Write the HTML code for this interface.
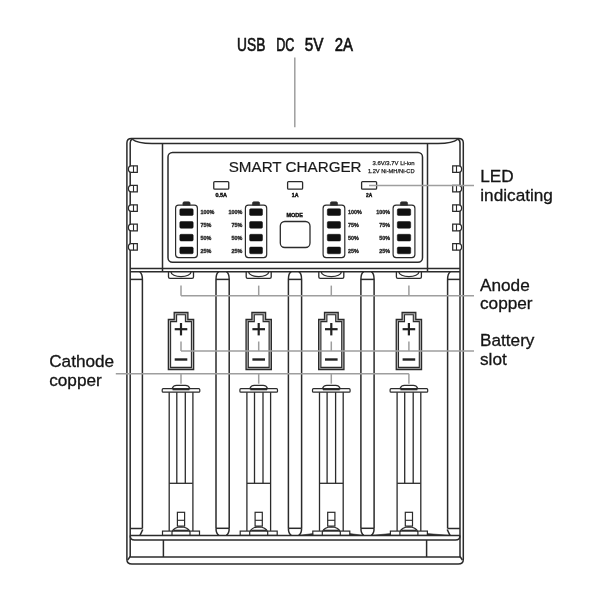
<!DOCTYPE html>
<html><head><meta charset="utf-8"><style>
html,body{margin:0;padding:0;background:#fff;width:600px;height:600px;overflow:hidden}
svg{display:block;filter:grayscale(1) blur(0.3px);font-family:"Liberation Sans",sans-serif}
</style></head><body>
<svg width="600" height="600" viewBox="0 0 600 600">
<text x="237.1" y="50.7" font-size="17.5" font-weight="normal" text-anchor="start" fill="#111" textLength="28.3" lengthAdjust="spacingAndGlyphs" stroke="#111" stroke-width="0.6">USB</text>
<text x="276.2" y="50.7" font-size="17.5" font-weight="normal" text-anchor="start" fill="#111" textLength="18.2" lengthAdjust="spacingAndGlyphs" stroke="#111" stroke-width="0.6">DC</text>
<text x="304.8" y="50.7" font-size="17.5" font-weight="normal" text-anchor="start" fill="#111" textLength="18.8" lengthAdjust="spacingAndGlyphs" stroke="#111" stroke-width="0.6">5V</text>
<text x="334.7" y="50.7" font-size="17.5" font-weight="normal" text-anchor="start" fill="#111" textLength="18.3" lengthAdjust="spacingAndGlyphs" stroke="#111" stroke-width="0.6">2A</text>
<line x1="294.8" y1="57.5" x2="294.8" y2="127.2" stroke="#9e9e9e" stroke-width="1.5"/>
<path d="M126.9,143.0 Q126.9,138.5 131.4,138.5 H458.8 Q463.3,138.5 463.3,143.0 V559.5 Q463.3,564 458.3,564 H131.9 Q126.9,564 126.9,559.5 Z" stroke="#2b2b2b" stroke-width="1.5" fill="none" />
<path d="M130.2,557 V143 Q130.2,140 132.3,139.0" stroke="#2b2b2b" stroke-width="1.5" fill="none" />
<path d="M460,557 V143 Q460,140 457.7,139.0" stroke="#2b2b2b" stroke-width="1.5" fill="none" />
<path d="M132.3,139.2 C136,142.3 141,143.5 152,143.5 H438 C449,143.5 454,142.3 457.7,139.2" stroke="#2b2b2b" stroke-width="1.5" fill="none" />
<path d="M130.2,556.5 L127.6,560" stroke="#2b2b2b" stroke-width="1.5" fill="none" />
<path d="M460,556.5 L462.4,560" stroke="#2b2b2b" stroke-width="1.5" fill="none" />
<line x1="130.2" y1="557" x2="460" y2="557" stroke="#2b2b2b" stroke-width="1.5"/>
<path d="M130.2,535.4 Q130.2,540 134.5,540 H455.5 Q460,540 460,535.4" stroke="#2b2b2b" stroke-width="1.5" fill="none" />
<line x1="130.2" y1="535.4" x2="460" y2="535.4" stroke="#2b2b2b" stroke-width="1.5"/>
<line x1="163.4" y1="540" x2="163.4" y2="557" stroke="#2b2b2b" stroke-width="1.5"/>
<line x1="426.6" y1="540" x2="426.6" y2="557" stroke="#2b2b2b" stroke-width="1.5"/>
<line x1="162.5" y1="143.5" x2="162.5" y2="271.7" stroke="#2b2b2b" stroke-width="1.5"/>
<line x1="427.5" y1="143.5" x2="427.5" y2="271.7" stroke="#2b2b2b" stroke-width="1.5"/>
<path d="M131.3,165.79999999999998 H137.3 V172.4 H131.3 C128.9,172.4 128.4,170.6 128.4,169.1 C128.4,167.6 128.9,165.79999999999998 131.3,165.79999999999998 Z" stroke="#2b2b2b" stroke-width="1.25" fill="#fff" />
<line x1="133.5" y1="165.79999999999998" x2="133.5" y2="172.4" stroke="#2b2b2b" stroke-width="1.1"/>
<path d="M458.7,165.79999999999998 H452.7 V172.4 H458.7 C461.1,172.4 461.6,170.6 461.6,169.1 C461.6,167.6 461.1,165.79999999999998 458.7,165.79999999999998 Z" stroke="#2b2b2b" stroke-width="1.25" fill="#fff" />
<line x1="456.5" y1="165.79999999999998" x2="456.5" y2="172.4" stroke="#2b2b2b" stroke-width="1.1"/>
<path d="M131.3,185.29999999999998 H137.3 V191.9 H131.3 C128.9,191.9 128.4,190.1 128.4,188.6 C128.4,187.1 128.9,185.29999999999998 131.3,185.29999999999998 Z" stroke="#2b2b2b" stroke-width="1.25" fill="#fff" />
<line x1="133.5" y1="185.29999999999998" x2="133.5" y2="191.9" stroke="#2b2b2b" stroke-width="1.1"/>
<path d="M458.7,185.29999999999998 H452.7 V191.9 H458.7 C461.1,191.9 461.6,190.1 461.6,188.6 C461.6,187.1 461.1,185.29999999999998 458.7,185.29999999999998 Z" stroke="#2b2b2b" stroke-width="1.25" fill="#fff" />
<line x1="456.5" y1="185.29999999999998" x2="456.5" y2="191.9" stroke="#2b2b2b" stroke-width="1.1"/>
<path d="M131.3,204.75 H137.3 V211.35000000000002 H131.3 C128.9,211.35000000000002 128.4,209.55 128.4,208.05 C128.4,206.55 128.9,204.75 131.3,204.75 Z" stroke="#2b2b2b" stroke-width="1.25" fill="#fff" />
<line x1="133.5" y1="204.75" x2="133.5" y2="211.35000000000002" stroke="#2b2b2b" stroke-width="1.1"/>
<path d="M458.7,204.75 H452.7 V211.35000000000002 H458.7 C461.1,211.35000000000002 461.6,209.55 461.6,208.05 C461.6,206.55 461.1,204.75 458.7,204.75 Z" stroke="#2b2b2b" stroke-width="1.25" fill="#fff" />
<line x1="456.5" y1="204.75" x2="456.5" y2="211.35000000000002" stroke="#2b2b2b" stroke-width="1.1"/>
<path d="M131.3,224.2 H137.3 V230.8 H131.3 C128.9,230.8 128.4,229.0 128.4,227.5 C128.4,226.0 128.9,224.2 131.3,224.2 Z" stroke="#2b2b2b" stroke-width="1.25" fill="#fff" />
<line x1="133.5" y1="224.2" x2="133.5" y2="230.8" stroke="#2b2b2b" stroke-width="1.1"/>
<path d="M458.7,224.2 H452.7 V230.8 H458.7 C461.1,230.8 461.6,229.0 461.6,227.5 C461.6,226.0 461.1,224.2 458.7,224.2 Z" stroke="#2b2b2b" stroke-width="1.25" fill="#fff" />
<line x1="456.5" y1="224.2" x2="456.5" y2="230.8" stroke="#2b2b2b" stroke-width="1.1"/>
<path d="M131.3,243.6 H137.3 V250.20000000000002 H131.3 C128.9,250.20000000000002 128.4,248.4 128.4,246.9 C128.4,245.4 128.9,243.6 131.3,243.6 Z" stroke="#2b2b2b" stroke-width="1.25" fill="#fff" />
<line x1="133.5" y1="243.6" x2="133.5" y2="250.20000000000002" stroke="#2b2b2b" stroke-width="1.1"/>
<path d="M458.7,243.6 H452.7 V250.20000000000002 H458.7 C461.1,250.20000000000002 461.6,248.4 461.6,246.9 C461.6,245.4 461.1,243.6 458.7,243.6 Z" stroke="#2b2b2b" stroke-width="1.25" fill="#fff" />
<line x1="456.5" y1="243.6" x2="456.5" y2="250.20000000000002" stroke="#2b2b2b" stroke-width="1.1"/>
<line x1="130.2" y1="268.5" x2="460" y2="268.5" stroke="#2b2b2b" stroke-width="1.5"/>
<line x1="130.2" y1="271.7" x2="460" y2="271.7" stroke="#2b2b2b" stroke-width="1.5"/>
<rect x="168" y="152.5" width="254.5" height="109.8" rx="4.5" stroke="#2b2b2b" stroke-width="1.5" fill="none"/>
<text x="228.7" y="171.6" font-size="15.2" font-weight="normal" text-anchor="start" fill="#1a1a1a" textLength="132.9" lengthAdjust="spacingAndGlyphs" stroke="#1a1a1a" stroke-width="0.2">SMART CHARGER</text>
<text x="414.6" y="165" font-size="5.9" font-weight="normal" text-anchor="end" fill="#222" textLength="42" lengthAdjust="spacingAndGlyphs" stroke="#222" stroke-width="0.25">3.6V/3.7V Li-ion</text>
<text x="414.6" y="173" font-size="5.9" font-weight="normal" text-anchor="end" fill="#222" textLength="46.7" lengthAdjust="spacingAndGlyphs" stroke="#222" stroke-width="0.25">1.2V Ni-MH/Ni-CD</text>
<rect x="213.75" y="181.6" width="15" height="7.6" rx="1" stroke="#2b2b2b" stroke-width="1.3" fill="none"/>
<text x="221.25" y="196.6" font-size="5.3" font-weight="bold" text-anchor="middle" fill="#111" textLength="11.6" lengthAdjust="spacingAndGlyphs" stroke="#111" stroke-width="0.4">0.5A</text>
<rect x="287.6" y="181.6" width="15" height="7.6" rx="1" stroke="#2b2b2b" stroke-width="1.3" fill="none"/>
<text x="295.1" y="196.6" font-size="5.3" font-weight="bold" text-anchor="middle" fill="#111" textLength="6.7" lengthAdjust="spacingAndGlyphs" stroke="#111" stroke-width="0.4">1A</text>
<rect x="361.6" y="181.6" width="15" height="7.6" rx="1" stroke="#2b2b2b" stroke-width="1.3" fill="none"/>
<text x="369.1" y="196.6" font-size="5.3" font-weight="bold" text-anchor="middle" fill="#111" textLength="6.2" lengthAdjust="spacingAndGlyphs" stroke="#111" stroke-width="0.4">2A</text>
<rect x="175.6" y="205.2" width="21.80000000000001" height="52.4" rx="3" stroke="#2b2b2b" stroke-width="1.2" fill="none"/>
<path d="M182.9,205.2 V203.2 Q182.9,201.8 184.3,201.8 H188.7 Q190.1,201.8 190.1,203.2 V205.2 Z" stroke="#2b2b2b" stroke-width="0.6" fill="#2b2b2b" />
<rect x="179.79999999999998" y="208.8" width="13.400000000000011" height="6.7" rx="1.2" stroke="#111" stroke-width="0.5" fill="#111"/>
<text x="200.6" y="214.4" font-size="5.4" font-weight="bold" text-anchor="start" fill="#222" stroke="#222" stroke-width="0.3">100%</text>
<rect x="179.79999999999998" y="221.55" width="13.400000000000011" height="6.7" rx="1.2" stroke="#111" stroke-width="0.5" fill="#111"/>
<text x="200.6" y="227.15" font-size="5.4" font-weight="bold" text-anchor="start" fill="#222" stroke="#222" stroke-width="0.3">75%</text>
<rect x="179.79999999999998" y="234.3" width="13.400000000000011" height="6.7" rx="1.2" stroke="#111" stroke-width="0.5" fill="#111"/>
<text x="200.6" y="239.9" font-size="5.4" font-weight="bold" text-anchor="start" fill="#222" stroke="#222" stroke-width="0.3">50%</text>
<rect x="179.79999999999998" y="247.05" width="13.400000000000011" height="6.7" rx="1.2" stroke="#111" stroke-width="0.5" fill="#111"/>
<text x="200.6" y="252.65" font-size="5.4" font-weight="bold" text-anchor="start" fill="#222" stroke="#222" stroke-width="0.3">25%</text>
<rect x="245.4" y="205.2" width="21.299999999999983" height="52.4" rx="3" stroke="#2b2b2b" stroke-width="1.2" fill="none"/>
<path d="M252.45000000000002,205.2 V203.2 Q252.45000000000002,201.8 253.85000000000002,201.8 H258.25 Q259.65000000000003,201.8 259.65000000000003,203.2 V205.2 Z" stroke="#2b2b2b" stroke-width="0.6" fill="#2b2b2b" />
<rect x="249.6" y="208.8" width="12.899999999999983" height="6.7" rx="1.2" stroke="#111" stroke-width="0.5" fill="#111"/>
<text x="242.4" y="214.4" font-size="5.4" font-weight="bold" text-anchor="end" fill="#222" stroke="#222" stroke-width="0.3">100%</text>
<rect x="249.6" y="221.55" width="12.899999999999983" height="6.7" rx="1.2" stroke="#111" stroke-width="0.5" fill="#111"/>
<text x="242.4" y="227.15" font-size="5.4" font-weight="bold" text-anchor="end" fill="#222" stroke="#222" stroke-width="0.3">75%</text>
<rect x="249.6" y="234.3" width="12.899999999999983" height="6.7" rx="1.2" stroke="#111" stroke-width="0.5" fill="#111"/>
<text x="242.4" y="239.9" font-size="5.4" font-weight="bold" text-anchor="end" fill="#222" stroke="#222" stroke-width="0.3">50%</text>
<rect x="249.6" y="247.05" width="12.899999999999983" height="6.7" rx="1.2" stroke="#111" stroke-width="0.5" fill="#111"/>
<text x="242.4" y="252.65" font-size="5.4" font-weight="bold" text-anchor="end" fill="#222" stroke="#222" stroke-width="0.3">25%</text>
<rect x="323.1" y="205.2" width="21.69999999999999" height="52.4" rx="3" stroke="#2b2b2b" stroke-width="1.2" fill="none"/>
<path d="M330.35,205.2 V203.2 Q330.35,201.8 331.75000000000006,201.8 H336.15000000000003 Q337.55000000000007,201.8 337.55000000000007,203.2 V205.2 Z" stroke="#2b2b2b" stroke-width="0.6" fill="#2b2b2b" />
<rect x="327.3" y="208.8" width="13.299999999999988" height="6.7" rx="1.2" stroke="#111" stroke-width="0.5" fill="#111"/>
<text x="348.0" y="214.4" font-size="5.4" font-weight="bold" text-anchor="start" fill="#222" stroke="#222" stroke-width="0.3">100%</text>
<rect x="327.3" y="221.55" width="13.299999999999988" height="6.7" rx="1.2" stroke="#111" stroke-width="0.5" fill="#111"/>
<text x="348.0" y="227.15" font-size="5.4" font-weight="bold" text-anchor="start" fill="#222" stroke="#222" stroke-width="0.3">75%</text>
<rect x="327.3" y="234.3" width="13.299999999999988" height="6.7" rx="1.2" stroke="#111" stroke-width="0.5" fill="#111"/>
<text x="348.0" y="239.9" font-size="5.4" font-weight="bold" text-anchor="start" fill="#222" stroke="#222" stroke-width="0.3">50%</text>
<rect x="327.3" y="247.05" width="13.299999999999988" height="6.7" rx="1.2" stroke="#111" stroke-width="0.5" fill="#111"/>
<text x="348.0" y="252.65" font-size="5.4" font-weight="bold" text-anchor="start" fill="#222" stroke="#222" stroke-width="0.3">25%</text>
<rect x="393.1" y="205.2" width="21.799999999999955" height="52.4" rx="3" stroke="#2b2b2b" stroke-width="1.2" fill="none"/>
<path d="M400.4,205.2 V203.2 Q400.4,201.8 401.8,201.8 H406.2 Q407.6,201.8 407.6,203.2 V205.2 Z" stroke="#2b2b2b" stroke-width="0.6" fill="#2b2b2b" />
<rect x="397.3" y="208.8" width="13.399999999999954" height="6.7" rx="1.2" stroke="#111" stroke-width="0.5" fill="#111"/>
<text x="390.1" y="214.4" font-size="5.4" font-weight="bold" text-anchor="end" fill="#222" stroke="#222" stroke-width="0.3">100%</text>
<rect x="397.3" y="221.55" width="13.399999999999954" height="6.7" rx="1.2" stroke="#111" stroke-width="0.5" fill="#111"/>
<text x="390.1" y="227.15" font-size="5.4" font-weight="bold" text-anchor="end" fill="#222" stroke="#222" stroke-width="0.3">75%</text>
<rect x="397.3" y="234.3" width="13.399999999999954" height="6.7" rx="1.2" stroke="#111" stroke-width="0.5" fill="#111"/>
<text x="390.1" y="239.9" font-size="5.4" font-weight="bold" text-anchor="end" fill="#222" stroke="#222" stroke-width="0.3">50%</text>
<rect x="397.3" y="247.05" width="13.399999999999954" height="6.7" rx="1.2" stroke="#111" stroke-width="0.5" fill="#111"/>
<text x="390.1" y="252.65" font-size="5.4" font-weight="bold" text-anchor="end" fill="#222" stroke="#222" stroke-width="0.3">25%</text>
<text x="294.75" y="217.2" font-size="5.4" font-weight="bold" text-anchor="middle" fill="#111" textLength="16.3" lengthAdjust="spacingAndGlyphs" stroke="#111" stroke-width="0.4">MODE</text>
<rect x="280.3" y="221.5" width="29.7" height="26" rx="4.5" stroke="#2b2b2b" stroke-width="1.3" fill="none"/>
<path d="M139.8,271.7 Q142.4,274 142.4,279.4 V528.5" stroke="#2b2b2b" stroke-width="1.5" fill="none" />
<line x1="130.2" y1="279.4" x2="142.4" y2="279.4" stroke="#2b2b2b" stroke-width="1.5"/>
<line x1="130.2" y1="528.5" x2="142.4" y2="528.5" stroke="#2b2b2b" stroke-width="1.5"/>
<path d="M142.8,529.5 L140,535.4" stroke="#2b2b2b" stroke-width="1.5" fill="none" />
<path d="M450.2,271.7 Q447.6,274 447.6,279.4 V528.5" stroke="#2b2b2b" stroke-width="1.5" fill="none" />
<line x1="460" y1="279.4" x2="447.6" y2="279.4" stroke="#2b2b2b" stroke-width="1.5"/>
<line x1="460" y1="528.5" x2="447.6" y2="528.5" stroke="#2b2b2b" stroke-width="1.5"/>
<path d="M447.2,529.5 L450,535.4" stroke="#2b2b2b" stroke-width="1.5" fill="none" />
<path d="M216.0,528.3 V279.4 C216.0,275.5 217.4,272.6 218.79999999999998,271.7 M226.4,271.7 C227.79999999999998,272.6 229.2,275.5 229.2,279.4 V528.3" stroke="#2b2b2b" stroke-width="1.5" fill="none" />
<line x1="216.0" y1="279.4" x2="229.2" y2="279.4" stroke="#2b2b2b" stroke-width="1.5"/>
<line x1="216.0" y1="528.3" x2="229.2" y2="528.3" stroke="#2b2b2b" stroke-width="1.5"/>
<path d="M216.0,528.3 C216.0,531.8 217.4,534.5 218.9,535.4 M226.29999999999998,535.4 C227.79999999999998,534.5 229.2,531.8 229.2,528.3" stroke="#2b2b2b" stroke-width="1.5" fill="none" />
<path d="M288.4,528.3 V279.4 C288.4,275.5 289.8,272.6 291.2,271.7 M298.8,271.7 C300.2,272.6 301.6,275.5 301.6,279.4 V528.3" stroke="#2b2b2b" stroke-width="1.5" fill="none" />
<line x1="288.4" y1="279.4" x2="301.6" y2="279.4" stroke="#2b2b2b" stroke-width="1.5"/>
<line x1="288.4" y1="528.3" x2="301.6" y2="528.3" stroke="#2b2b2b" stroke-width="1.5"/>
<path d="M288.4,528.3 C288.4,531.8 289.8,534.5 291.3,535.4 M298.7,535.4 C300.2,534.5 301.6,531.8 301.6,528.3" stroke="#2b2b2b" stroke-width="1.5" fill="none" />
<path d="M360.9,528.3 V279.4 C360.9,275.5 362.3,272.6 363.7,271.7 M371.3,271.7 C372.7,272.6 374.1,275.5 374.1,279.4 V528.3" stroke="#2b2b2b" stroke-width="1.5" fill="none" />
<line x1="360.9" y1="279.4" x2="374.1" y2="279.4" stroke="#2b2b2b" stroke-width="1.5"/>
<line x1="360.9" y1="528.3" x2="374.1" y2="528.3" stroke="#2b2b2b" stroke-width="1.5"/>
<path d="M360.9,528.3 C360.9,531.8 362.3,534.5 363.8,535.4 M371.2,535.4 C372.7,534.5 374.1,531.8 374.1,528.3" stroke="#2b2b2b" stroke-width="1.5" fill="none" />
<path d="M168.5,271.7 V277 Q168.5,278.4 170.0,278.4 H192.0 Q193.5,278.4 193.5,277 V271.7" stroke="#2b2b2b" stroke-width="1.3" fill="none" />
<path d="M171.0,272 A10 4.6 0 0 0 191.0,272" stroke="#2b2b2b" stroke-width="1.3" fill="none" />
<path d="M168.35,369.5 V319.5 H174.2 V312.5 H187.9 V319.5 H193.65 V369.5 Z" stroke="#2b2b2b" stroke-width="1.3" fill="#b4b4b4" />
<path d="M170.6,367.4 V321.6 H176.6 V314.8 H185.4 V321.6 H191.4 V367.4 Z" stroke="#2b2b2b" stroke-width="1.1" fill="#fff" />
<line x1="174.7" y1="329.2" x2="187.3" y2="329.2" stroke="#222" stroke-width="2.2"/>
<line x1="181.0" y1="323" x2="181.0" y2="335.4" stroke="#222" stroke-width="2.2"/>
<line x1="174.7" y1="359.5" x2="187.3" y2="359.5" stroke="#222" stroke-width="2.4"/>
<rect x="162.2" y="388.7" width="37.6" height="3.5" rx="1" stroke="#2b2b2b" stroke-width="1.2" fill="none"/>
<path d="M172.4,389.3 V388 Q173.5,385.3 176.5,385.3 H185.5 Q188.5,385.3 189.6,388 V389.3" stroke="#2b2b2b" stroke-width="1.2" fill="none" />
<line x1="172.6" y1="389.6" x2="189.4" y2="389.6" stroke="#2b2b2b" stroke-width="1.4"/>
<line x1="169.2" y1="392.2" x2="169.2" y2="530.9" stroke="#2b2b2b" stroke-width="1.3"/>
<line x1="192.9" y1="392.2" x2="192.9" y2="530.9" stroke="#2b2b2b" stroke-width="1.3"/>
<line x1="176.8" y1="392.2" x2="176.8" y2="483.3" stroke="#2b2b2b" stroke-width="1.3"/>
<line x1="185.3" y1="392.2" x2="185.3" y2="483.3" stroke="#2b2b2b" stroke-width="1.3"/>
<line x1="169.3" y1="483.3" x2="192.7" y2="483.3" stroke="#2b2b2b" stroke-width="1.3"/>
<rect x="177.4" y="512.3" width="7.2" height="13.8" rx="0" stroke="#2b2b2b" stroke-width="1.2" fill="none"/>
<line x1="177.4" y1="520.3" x2="184.6" y2="520.3" stroke="#2b2b2b" stroke-width="1.1"/>
<rect x="162.5" y="531.1" width="37" height="4.3" rx="0" stroke="#2b2b2b" stroke-width="1.2" fill="none"/>
<path d="M172.0,535.4 V532 Q174.0,527 181.0,526.9 Q188.0,527 190.0,532 V535.4" stroke="#2b2b2b" stroke-width="1.2" fill="none" />
<line x1="173.5" y1="530.4" x2="188.5" y2="530.4" stroke="#2b2b2b" stroke-width="1.4"/>
<path d="M246.2,271.7 V277 Q246.2,278.4 247.7,278.4 H269.7 Q271.2,278.4 271.2,277 V271.7" stroke="#2b2b2b" stroke-width="1.3" fill="none" />
<path d="M248.7,272 A10 4.6 0 0 0 268.7,272" stroke="#2b2b2b" stroke-width="1.3" fill="none" />
<path d="M246.04999999999998,369.5 V319.5 H251.89999999999998 V312.5 H265.59999999999997 V319.5 H271.34999999999997 V369.5 Z" stroke="#2b2b2b" stroke-width="1.3" fill="#b4b4b4" />
<path d="M248.29999999999998,367.4 V321.6 H254.29999999999998 V314.8 H263.09999999999997 V321.6 H269.09999999999997 V367.4 Z" stroke="#2b2b2b" stroke-width="1.1" fill="#fff" />
<line x1="252.39999999999998" y1="329.2" x2="265.0" y2="329.2" stroke="#222" stroke-width="2.2"/>
<line x1="258.7" y1="323" x2="258.7" y2="335.4" stroke="#222" stroke-width="2.2"/>
<line x1="252.39999999999998" y1="359.5" x2="265.0" y2="359.5" stroke="#222" stroke-width="2.4"/>
<rect x="239.89999999999998" y="388.7" width="37.6" height="3.5" rx="1" stroke="#2b2b2b" stroke-width="1.2" fill="none"/>
<path d="M250.1,389.3 V388 Q251.2,385.3 254.2,385.3 H263.2 Q266.2,385.3 267.3,388 V389.3" stroke="#2b2b2b" stroke-width="1.2" fill="none" />
<line x1="250.29999999999998" y1="389.6" x2="267.09999999999997" y2="389.6" stroke="#2b2b2b" stroke-width="1.4"/>
<line x1="246.89999999999998" y1="392.2" x2="246.89999999999998" y2="530.9" stroke="#2b2b2b" stroke-width="1.3"/>
<line x1="270.59999999999997" y1="392.2" x2="270.59999999999997" y2="530.9" stroke="#2b2b2b" stroke-width="1.3"/>
<line x1="254.5" y1="392.2" x2="254.5" y2="483.3" stroke="#2b2b2b" stroke-width="1.3"/>
<line x1="263.0" y1="392.2" x2="263.0" y2="483.3" stroke="#2b2b2b" stroke-width="1.3"/>
<line x1="247.0" y1="483.3" x2="270.4" y2="483.3" stroke="#2b2b2b" stroke-width="1.3"/>
<rect x="255.1" y="512.3" width="7.2" height="13.8" rx="0" stroke="#2b2b2b" stroke-width="1.2" fill="none"/>
<line x1="255.1" y1="520.3" x2="262.3" y2="520.3" stroke="#2b2b2b" stroke-width="1.1"/>
<rect x="240.2" y="531.1" width="37" height="4.3" rx="0" stroke="#2b2b2b" stroke-width="1.2" fill="none"/>
<path d="M249.7,535.4 V532 Q251.7,527 258.7,526.9 Q265.7,527 267.7,532 V535.4" stroke="#2b2b2b" stroke-width="1.2" fill="none" />
<line x1="251.2" y1="530.4" x2="266.2" y2="530.4" stroke="#2b2b2b" stroke-width="1.4"/>
<path d="M318.8,271.7 V277 Q318.8,278.4 320.3,278.4 H342.3 Q343.8,278.4 343.8,277 V271.7" stroke="#2b2b2b" stroke-width="1.3" fill="none" />
<path d="M321.3,272 A10 4.6 0 0 0 341.3,272" stroke="#2b2b2b" stroke-width="1.3" fill="none" />
<path d="M318.65000000000003,369.5 V319.5 H324.5 V312.5 H338.2 V319.5 H343.95 V369.5 Z" stroke="#2b2b2b" stroke-width="1.3" fill="#b4b4b4" />
<path d="M320.90000000000003,367.4 V321.6 H326.90000000000003 V314.8 H335.7 V321.6 H341.7 V367.4 Z" stroke="#2b2b2b" stroke-width="1.1" fill="#fff" />
<line x1="325.0" y1="329.2" x2="337.6" y2="329.2" stroke="#222" stroke-width="2.2"/>
<line x1="331.3" y1="323" x2="331.3" y2="335.4" stroke="#222" stroke-width="2.2"/>
<line x1="325.0" y1="359.5" x2="337.6" y2="359.5" stroke="#222" stroke-width="2.4"/>
<rect x="312.5" y="388.7" width="37.6" height="3.5" rx="1" stroke="#2b2b2b" stroke-width="1.2" fill="none"/>
<path d="M322.7,389.3 V388 Q323.8,385.3 326.8,385.3 H335.8 Q338.8,385.3 339.90000000000003,388 V389.3" stroke="#2b2b2b" stroke-width="1.2" fill="none" />
<line x1="322.90000000000003" y1="389.6" x2="339.7" y2="389.6" stroke="#2b2b2b" stroke-width="1.4"/>
<line x1="319.5" y1="392.2" x2="319.5" y2="530.9" stroke="#2b2b2b" stroke-width="1.3"/>
<line x1="343.2" y1="392.2" x2="343.2" y2="530.9" stroke="#2b2b2b" stroke-width="1.3"/>
<line x1="327.1" y1="392.2" x2="327.1" y2="483.3" stroke="#2b2b2b" stroke-width="1.3"/>
<line x1="335.6" y1="392.2" x2="335.6" y2="483.3" stroke="#2b2b2b" stroke-width="1.3"/>
<line x1="319.6" y1="483.3" x2="343.0" y2="483.3" stroke="#2b2b2b" stroke-width="1.3"/>
<rect x="327.7" y="512.3" width="7.2" height="13.8" rx="0" stroke="#2b2b2b" stroke-width="1.2" fill="none"/>
<line x1="327.7" y1="520.3" x2="334.90000000000003" y2="520.3" stroke="#2b2b2b" stroke-width="1.1"/>
<rect x="312.8" y="531.1" width="37" height="4.3" rx="0" stroke="#2b2b2b" stroke-width="1.2" fill="none"/>
<path d="M322.3,535.4 V532 Q324.3,527 331.3,526.9 Q338.3,527 340.3,532 V535.4" stroke="#2b2b2b" stroke-width="1.2" fill="none" />
<line x1="323.8" y1="530.4" x2="338.8" y2="530.4" stroke="#2b2b2b" stroke-width="1.4"/>
<path d="M396.4,271.7 V277 Q396.4,278.4 397.9,278.4 H419.9 Q421.4,278.4 421.4,277 V271.7" stroke="#2b2b2b" stroke-width="1.3" fill="none" />
<path d="M398.9,272 A10 4.6 0 0 0 418.9,272" stroke="#2b2b2b" stroke-width="1.3" fill="none" />
<path d="M396.25,369.5 V319.5 H402.09999999999997 V312.5 H415.79999999999995 V319.5 H421.54999999999995 V369.5 Z" stroke="#2b2b2b" stroke-width="1.3" fill="#b4b4b4" />
<path d="M398.5,367.4 V321.6 H404.5 V314.8 H413.29999999999995 V321.6 H419.29999999999995 V367.4 Z" stroke="#2b2b2b" stroke-width="1.1" fill="#fff" />
<line x1="402.59999999999997" y1="329.2" x2="415.2" y2="329.2" stroke="#222" stroke-width="2.2"/>
<line x1="408.9" y1="323" x2="408.9" y2="335.4" stroke="#222" stroke-width="2.2"/>
<line x1="402.59999999999997" y1="359.5" x2="415.2" y2="359.5" stroke="#222" stroke-width="2.4"/>
<rect x="390.09999999999997" y="388.7" width="37.6" height="3.5" rx="1" stroke="#2b2b2b" stroke-width="1.2" fill="none"/>
<path d="M400.29999999999995,389.3 V388 Q401.4,385.3 404.4,385.3 H413.4 Q416.4,385.3 417.5,388 V389.3" stroke="#2b2b2b" stroke-width="1.2" fill="none" />
<line x1="400.5" y1="389.6" x2="417.29999999999995" y2="389.6" stroke="#2b2b2b" stroke-width="1.4"/>
<line x1="397.09999999999997" y1="392.2" x2="397.09999999999997" y2="530.9" stroke="#2b2b2b" stroke-width="1.3"/>
<line x1="420.79999999999995" y1="392.2" x2="420.79999999999995" y2="530.9" stroke="#2b2b2b" stroke-width="1.3"/>
<line x1="404.7" y1="392.2" x2="404.7" y2="483.3" stroke="#2b2b2b" stroke-width="1.3"/>
<line x1="413.2" y1="392.2" x2="413.2" y2="483.3" stroke="#2b2b2b" stroke-width="1.3"/>
<line x1="397.2" y1="483.3" x2="420.59999999999997" y2="483.3" stroke="#2b2b2b" stroke-width="1.3"/>
<rect x="405.29999999999995" y="512.3" width="7.2" height="13.8" rx="0" stroke="#2b2b2b" stroke-width="1.2" fill="none"/>
<line x1="405.29999999999995" y1="520.3" x2="412.5" y2="520.3" stroke="#2b2b2b" stroke-width="1.1"/>
<rect x="390.4" y="531.1" width="37" height="4.3" rx="0" stroke="#2b2b2b" stroke-width="1.2" fill="none"/>
<path d="M399.9,535.4 V532 Q401.9,527 408.9,526.9 Q415.9,527 417.9,532 V535.4" stroke="#2b2b2b" stroke-width="1.2" fill="none" />
<line x1="401.4" y1="530.4" x2="416.4" y2="530.4" stroke="#2b2b2b" stroke-width="1.4"/>
<path d="M298.7,535.4 L312.8,533.6 L312.8,535.4 Z" stroke="#2b2b2b" stroke-width="0.6" fill="#2b2b2b" />
<path d="M363.8,535.4 L349.8,533.6 L349.8,535.4 Z" stroke="#2b2b2b" stroke-width="0.6" fill="#2b2b2b" />
<path d="M371.2,535.4 L390.4,533.6 L390.4,535.4 Z" stroke="#2b2b2b" stroke-width="0.6" fill="#2b2b2b" />
<path d="M450.5,535.4 L427.4,533.6 L427.4,535.4 Z" stroke="#2b2b2b" stroke-width="0.6" fill="#2b2b2b" />
<line x1="369.1" y1="185.4" x2="474" y2="185.4" stroke="#9e9e9e" stroke-width="1.5"/>
<line x1="181" y1="295.7" x2="474" y2="295.7" stroke="#9e9e9e" stroke-width="1.5"/>
<line x1="181" y1="351" x2="474" y2="351" stroke="#9e9e9e" stroke-width="1.5"/>
<line x1="115.8" y1="373.8" x2="408.9" y2="373.8" stroke="#9e9e9e" stroke-width="1.5"/>
<line x1="181.0" y1="285.6" x2="181.0" y2="295.7" stroke="#9e9e9e" stroke-width="1.5"/>
<line x1="181.0" y1="341.5" x2="181.0" y2="351" stroke="#9e9e9e" stroke-width="1.5"/>
<line x1="181.0" y1="373.8" x2="181.0" y2="383.7" stroke="#9e9e9e" stroke-width="1.5"/>
<line x1="258.7" y1="285.6" x2="258.7" y2="295.7" stroke="#9e9e9e" stroke-width="1.5"/>
<line x1="258.7" y1="341.5" x2="258.7" y2="351" stroke="#9e9e9e" stroke-width="1.5"/>
<line x1="258.7" y1="373.8" x2="258.7" y2="383.7" stroke="#9e9e9e" stroke-width="1.5"/>
<line x1="331.3" y1="285.6" x2="331.3" y2="295.7" stroke="#9e9e9e" stroke-width="1.5"/>
<line x1="331.3" y1="341.5" x2="331.3" y2="351" stroke="#9e9e9e" stroke-width="1.5"/>
<line x1="331.3" y1="373.8" x2="331.3" y2="383.7" stroke="#9e9e9e" stroke-width="1.5"/>
<line x1="408.9" y1="285.6" x2="408.9" y2="295.7" stroke="#9e9e9e" stroke-width="1.5"/>
<line x1="408.9" y1="341.5" x2="408.9" y2="351" stroke="#9e9e9e" stroke-width="1.5"/>
<line x1="408.9" y1="373.8" x2="408.9" y2="383.7" stroke="#9e9e9e" stroke-width="1.5"/>
<text x="480.3" y="181.7" font-size="17.2" font-weight="normal" text-anchor="start" fill="#141414" stroke="#141414" stroke-width="0.3">LED</text>
<text x="480.3" y="200.8" font-size="17.2" font-weight="normal" text-anchor="start" fill="#141414" stroke="#141414" stroke-width="0.3">indicating</text>
<text x="480" y="290.7" font-size="17.2" font-weight="normal" text-anchor="start" fill="#141414" stroke="#141414" stroke-width="0.3">Anode</text>
<text x="480" y="309.3" font-size="17.2" font-weight="normal" text-anchor="start" fill="#141414" stroke="#141414" stroke-width="0.3">copper</text>
<text x="480" y="345.9" font-size="17.2" font-weight="normal" text-anchor="start" fill="#141414" stroke="#141414" stroke-width="0.3">Battery</text>
<text x="480" y="364.5" font-size="17.2" font-weight="normal" text-anchor="start" fill="#141414" stroke="#141414" stroke-width="0.3">slot</text>
<text x="49.2" y="367" font-size="17.2" font-weight="normal" text-anchor="start" fill="#141414" stroke="#141414" stroke-width="0.3">Cathode</text>
<text x="49.2" y="385.8" font-size="17.2" font-weight="normal" text-anchor="start" fill="#141414" stroke="#141414" stroke-width="0.3">copper</text>
</svg>
</body></html>
